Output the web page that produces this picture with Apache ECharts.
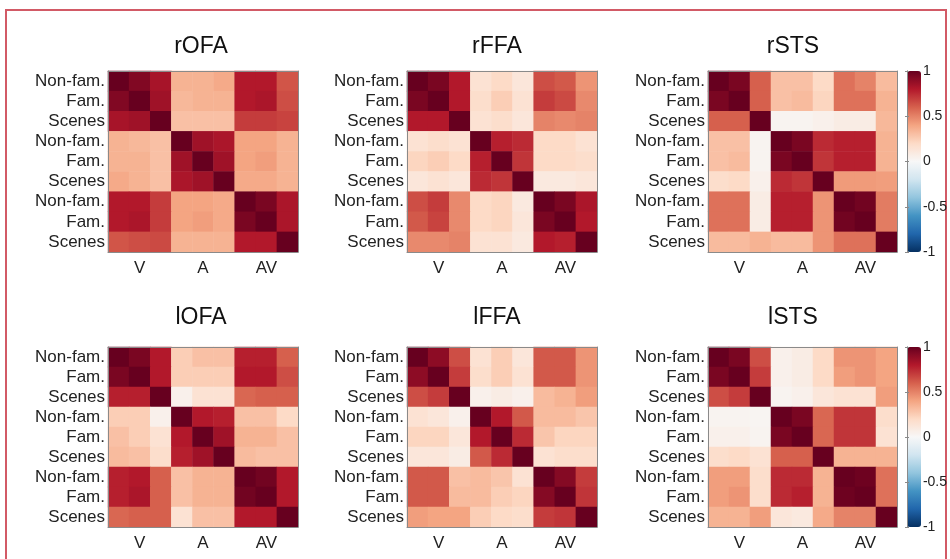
<!DOCTYPE html>
<html>
<head>
<meta charset="utf-8">
<title>ROI similarity matrices</title>
<script src="https://cdn.jsdelivr.net/npm/echarts@6.0.0/dist/echarts.min.js"></script>
<style>
  html, body { margin: 0; padding: 0; background: #fff; }
  #frame { position: absolute; left: 5px; top: 9px; width: 942px; height: 560px; border: 2px solid #d25a66; box-sizing: border-box; }
  #chart { position: absolute; left: 0; top: 0; width: 950px; height: 559px; }
</style>
</head>
<body>
<div id="frame"></div>
<div id="chart"></div>
<script>
// condition order: V, A, AV x (Non-fam., Fam., Scenes)
const rowLabels = ['Non-fam.', 'Fam.', 'Scenes', 'Non-fam.', 'Fam.', 'Scenes', 'Non-fam.', 'Fam.', 'Scenes'];
const colLabels = ['', 'V', '', '', 'A', '', '', 'AV', ''];
const cbTicks = [-1, -0.5, 0, 0.5, 1];
const roiNames = ['rOFA', 'rFFA', 'rSTS', 'lOFA', 'lFFA', 'lSTS'];

const rOFA = [
  [1.00, 0.93, 0.83, 0.35, 0.35, 0.38, 0.80, 0.80, 0.63],
  [0.93, 1.00, 0.85, 0.33, 0.35, 0.35, 0.80, 0.82, 0.65],
  [0.83, 0.85, 1.00, 0.30, 0.30, 0.30, 0.70, 0.70, 0.68],
  [0.35, 0.33, 0.30, 1.00, 0.85, 0.82, 0.40, 0.40, 0.35],
  [0.35, 0.35, 0.30, 0.85, 1.00, 0.85, 0.40, 0.42, 0.35],
  [0.38, 0.35, 0.30, 0.82, 0.85, 1.00, 0.38, 0.38, 0.35],
  [0.80, 0.80, 0.70, 0.40, 0.40, 0.38, 1.00, 0.95, 0.82],
  [0.80, 0.82, 0.70, 0.40, 0.42, 0.38, 0.95, 1.00, 0.82],
  [0.63, 0.65, 0.66, 0.35, 0.35, 0.35, 0.80, 0.80, 1.00]
];
const rFFA = [
  [1.00, 0.95, 0.80, 0.15, 0.20, 0.12, 0.65, 0.62, 0.45],
  [0.95, 1.00, 0.80, 0.18, 0.25, 0.15, 0.70, 0.66, 0.48],
  [0.80, 0.80, 1.00, 0.15, 0.18, 0.12, 0.50, 0.48, 0.50],
  [0.15, 0.18, 0.15, 1.00, 0.78, 0.75, 0.20, 0.20, 0.15],
  [0.22, 0.25, 0.20, 0.78, 1.00, 0.72, 0.20, 0.20, 0.18],
  [0.12, 0.15, 0.12, 0.75, 0.72, 1.00, 0.10, 0.10, 0.12],
  [0.65, 0.70, 0.48, 0.20, 0.22, 0.10, 1.00, 0.95, 0.82],
  [0.62, 0.68, 0.48, 0.20, 0.22, 0.12, 0.95, 1.00, 0.80],
  [0.48, 0.48, 0.50, 0.15, 0.15, 0.10, 0.80, 0.78, 1.00]
];
const rSTS = [
  [1.00, 0.95, 0.60, 0.30, 0.30, 0.20, 0.55, 0.50, 0.32],
  [0.95, 1.00, 0.60, 0.30, 0.32, 0.22, 0.55, 0.55, 0.35],
  [0.60, 0.60, 1.00, 0.03, 0.03, 0.05, 0.08, 0.08, 0.33],
  [0.30, 0.30, 0.03, 1.00, 0.95, 0.75, 0.78, 0.78, 0.35],
  [0.30, 0.32, 0.03, 0.95, 1.00, 0.72, 0.78, 0.78, 0.35],
  [0.18, 0.20, 0.05, 0.75, 0.72, 1.00, 0.43, 0.43, 0.42],
  [0.55, 0.55, 0.08, 0.78, 0.78, 0.45, 1.00, 0.97, 0.52],
  [0.55, 0.55, 0.08, 0.78, 0.78, 0.45, 0.97, 1.00, 0.52],
  [0.32, 0.32, 0.35, 0.32, 0.32, 0.45, 0.55, 0.55, 1.00]
];
const lOFA = [
  [1.00, 0.95, 0.80, 0.25, 0.30, 0.30, 0.78, 0.78, 0.60],
  [0.95, 1.00, 0.80, 0.25, 0.25, 0.25, 0.80, 0.80, 0.65],
  [0.78, 0.78, 1.00, 0.05, 0.15, 0.15, 0.58, 0.60, 0.60],
  [0.25, 0.25, 0.05, 1.00, 0.80, 0.78, 0.30, 0.30, 0.20],
  [0.30, 0.25, 0.15, 0.80, 1.00, 0.85, 0.35, 0.35, 0.30],
  [0.32, 0.30, 0.18, 0.78, 0.85, 1.00, 0.32, 0.30, 0.30],
  [0.78, 0.80, 0.60, 0.30, 0.35, 0.35, 1.00, 0.97, 0.80],
  [0.78, 0.82, 0.60, 0.30, 0.35, 0.35, 0.97, 1.00, 0.80],
  [0.58, 0.60, 0.60, 0.15, 0.30, 0.30, 0.80, 0.80, 1.00]
];
const lFFA = [
  [1.00, 0.90, 0.65, 0.15, 0.25, 0.12, 0.62, 0.62, 0.45],
  [0.90, 1.00, 0.70, 0.18, 0.25, 0.15, 0.62, 0.62, 0.45],
  [0.65, 0.70, 1.00, 0.05, 0.08, 0.05, 0.32, 0.35, 0.42],
  [0.15, 0.12, 0.05, 1.00, 0.80, 0.62, 0.32, 0.32, 0.28],
  [0.22, 0.22, 0.12, 0.80, 1.00, 0.75, 0.28, 0.22, 0.22],
  [0.12, 0.12, 0.08, 0.62, 0.75, 1.00, 0.15, 0.18, 0.18],
  [0.62, 0.62, 0.30, 0.32, 0.28, 0.15, 1.00, 0.92, 0.70],
  [0.62, 0.62, 0.32, 0.32, 0.25, 0.22, 0.92, 1.00, 0.72],
  [0.42, 0.40, 0.40, 0.25, 0.20, 0.18, 0.70, 0.72, 1.00]
];
const lSTS = [
  [1.00, 0.95, 0.65, 0.05, 0.08, 0.20, 0.45, 0.45, 0.40],
  [0.95, 1.00, 0.70, 0.05, 0.08, 0.20, 0.42, 0.45, 0.40],
  [0.65, 0.70, 1.00, 0.03, 0.05, 0.12, 0.15, 0.15, 0.42],
  [0.03, 0.03, 0.02, 1.00, 0.95, 0.58, 0.72, 0.72, 0.18],
  [0.05, 0.05, 0.03, 0.95, 1.00, 0.58, 0.72, 0.72, 0.15],
  [0.18, 0.20, 0.15, 0.60, 0.60, 1.00, 0.35, 0.35, 0.35],
  [0.42, 0.42, 0.18, 0.75, 0.75, 0.35, 1.00, 0.98, 0.55],
  [0.42, 0.45, 0.18, 0.75, 0.78, 0.35, 0.98, 1.00, 0.55],
  [0.35, 0.35, 0.42, 0.12, 0.10, 0.38, 0.50, 0.50, 1.00]
];
const matrices = [rOFA, rFFA, rSTS, lOFA, lFFA, lSTS];

// red-blue diverging map, -1 .. 1
const rdbu = ['#053061', '#2166ac', '#4393c3', '#92c5de', '#d1e5f0', '#f7f7f7',
              '#fddbc7', '#f4a582', '#d6604d', '#b2182b', '#67001f'];

const FONT = '"Liberation Sans", Arial, sans-serif';
const lineStyle = { color: '#8a8a8a', width: 1 };

// layout of the 2x3 panels
const cols = [{ left: 108, w: 190, tx: 201 }, { left: 407, w: 190, tx: 497 }, { left: 708, w: 189, tx: 793 }];
const rows = [{ top: 71, h: 181, ty: 35 }, { top: 347, h: 180, ty: 306 }];
const cbar = { left: 907, w: 14 };

const grids = [], xAxes = [], yAxes = [], series = [], titles = [];

matrices.forEach((m, k) => {
  const c = cols[k % 3], r = rows[Math.floor(k / 3)];
  grids.push({ left: c.left, top: r.top, width: c.w, height: r.h });
  titles.push({
    text: roiNames[k], left: c.tx, top: r.ty, textAlign: 'center', padding: 0,
    textStyle: { fontFamily: FONT, fontSize: 23, fontWeight: 'normal', color: '#111' }
  });
  const ax = xAxes.length;
  xAxes.push({
    type: 'category', gridIndex: k, data: colLabels, position: 'bottom', z: 5,
    axisLine: { lineStyle }, splitLine: { show: false },
    axisTick: { inside: true, length: 3, alignWithLabel: true, interval: i => i % 3 === 1, lineStyle },
    axisLabel: { interval: 0, fontFamily: FONT, fontSize: 17, color: '#222', margin: 8 }
  }, {
    type: 'category', gridIndex: k, data: colLabels, position: 'top', z: 5,
    axisLine: { lineStyle }, axisLabel: { show: false },
    axisTick: { inside: true, length: 3, alignWithLabel: true, interval: i => i % 3 === 1, lineStyle }
  });
  const ay = yAxes.length;
  yAxes.push({
    type: 'category', gridIndex: k, data: rowLabels, inverse: true, position: 'left', z: 5,
    axisLine: { lineStyle }, splitLine: { show: false },
    axisTick: { inside: true, length: 3, alignWithLabel: true, lineStyle },
    axisLabel: { interval: 0, fontFamily: FONT, fontSize: 17, color: '#222', margin: 3 }
  }, {
    type: 'category', gridIndex: k, data: rowLabels, inverse: true, position: 'right', z: 5,
    axisLine: { lineStyle }, axisLabel: { show: false },
    axisTick: { inside: true, length: 3, alignWithLabel: true, lineStyle }
  });
  const data = [];
  m.forEach((row, i) => row.forEach((v, j) => data.push([j, i, v])));
  series.push({
    type: 'heatmap', xAxisIndex: ax, yAxisIndex: ay, data,
    itemStyle: { borderWidth: 0 }, emphasis: { disabled: true }, progressive: 0
  });
});

// colour bar axes, one per panel row
rows.forEach(r => {
  const g = grids.length;
  grids.push({ left: cbar.left, top: r.top, width: cbar.w, height: r.h });
  xAxes.push({ type: 'value', gridIndex: g, show: false, min: 0, max: 1 });
  yAxes.push({
    type: 'value', gridIndex: g, min: cbTicks[0], max: cbTicks[cbTicks.length - 1], interval: 0.5,
    position: 'right', z: 10, splitLine: { show: false },
    axisLine: { show: true, lineStyle },
    axisTick: { inside: true, length: 2, lineStyle },
    axisLabel: { fontFamily: FONT, fontSize: 14, color: '#222', margin: 2 }
  }, {
    type: 'value', gridIndex: g, min: cbTicks[0], max: cbTicks[cbTicks.length - 1], interval: 0.5,
    position: 'left', z: 10, splitLine: { show: false }, axisLabel: { show: false },
    axisTick: { inside: true, length: 2, lineStyle },
    axisLine: { show: true, lineStyle }
  });
});

const visualMaps = rows.map((r, i) => ({
  type: 'continuous', min: -1, max: 1, seriesIndex: [i * 3, i * 3 + 1, i * 3 + 2],
  left: cbar.left, top: r.top, itemWidth: cbar.w, itemHeight: r.h,
  padding: 0, calculable: false, hoverLink: false, text: null,
  inRange: { color: rdbu }
}));

const chart = echarts.init(document.getElementById('chart'), null, { renderer: 'canvas' });
chart.setOption({
  animation: false,
  backgroundColor: 'transparent',
  title: titles,
  grid: grids,
  xAxis: xAxes,
  yAxis: yAxes,
  visualMap: visualMaps,
  series
});
</script>
</body>
</html>
